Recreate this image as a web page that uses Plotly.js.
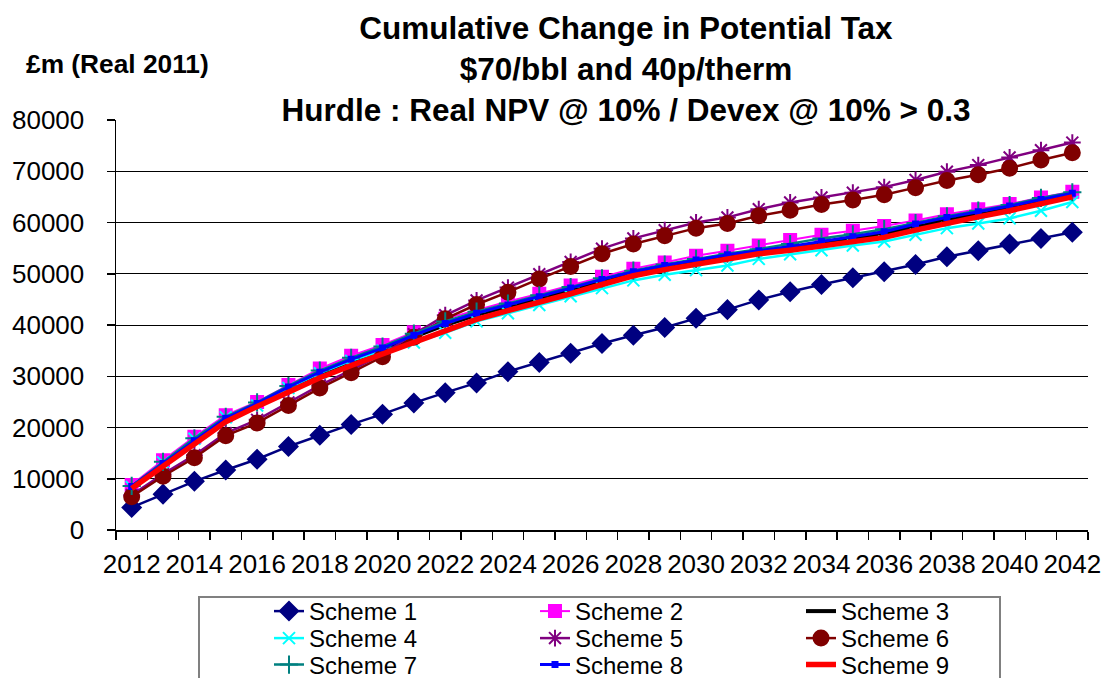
<!DOCTYPE html>
<html>
<head>
<meta charset="utf-8">
<script src="https://cdn.plot.ly/plotly-3.0.1.min.js"></script>
<style>html,body{margin:0;padding:0;background:#fff;}#chart{width:1104px;height:678px;}</style>
</head>
<body>
<div id="chart"></div>
<script>
var years = [2012,2013,2014,2015,2016,2017,2018,2019,2020,2021,2022,2023,2024,2025,2026,2027,2028,2029,2030,2031,2032,2033,2034,2035,2036,2037,2038,2039,2040,2041,2042];
var scheme1 = [4400,7000,9500,11700,13800,16300,18500,20600,22600,24800,26800,28700,30900,32700,34500,36400,38000,39500,41300,43000,44900,46500,47900,49200,50400,51800,53300,54500,55800,56900,58100];
var scheme2 = [8800,13600,18200,22400,25000,28300,31500,34000,36100,38600,41200,42900,44600,46100,47700,49400,51000,52200,53500,54500,55500,56600,57600,58400,59300,60400,61600,62600,63600,64900,66000];
var scheme3 = [8400,12800,17100,21500,24500,27600,30500,33000,35200,37700,40000,42000,43600,45200,46900,48600,50100,51300,52400,53400,54300,55000,55900,56800,57800,59300,60600,61700,62900,64200,65400];
var scheme4 = [8400,13200,17800,22000,24300,27700,30600,33000,35000,36600,38500,40700,42300,43900,45600,47200,48700,49800,50700,51600,52900,53800,54600,55500,56300,57600,58900,59800,60800,62300,64000];
var scheme5 = [6800,10900,14600,18900,21500,24900,28200,31200,34300,38200,41900,44800,47300,49900,52300,54900,56900,58500,60000,61000,62600,63900,64900,65800,66900,68300,69900,71200,72700,74100,75600];
var scheme6 = [6500,10500,14100,18400,20900,24300,27700,30700,33800,37600,41200,44000,46400,49000,51400,53900,55800,57400,58900,59800,61300,62400,63500,64400,65400,66800,68200,69300,70600,72200,73600];
var scheme7 = [8600,13300,17900,22100,24900,28100,31100,33600,35800,38300,40700,42600,44200,45800,47400,49100,50600,51800,52900,53900,54800,55800,56900,57700,58700,59900,61200,62300,63400,64800,65900];
var scheme8 = [8500,13000,17400,21800,24700,27900,30800,33300,35500,38000,40300,42300,43900,45500,47200,48900,50400,51600,52700,53700,54500,55300,56300,57200,58200,59700,61000,62100,63200,64500,65700];
var scheme9 = [8100,12400,16600,21100,24100,26900,29700,32100,34400,36600,38900,41100,42800,44400,46100,47900,49600,50800,51900,52900,53900,54600,55400,56200,57100,58500,59900,61100,62300,63600,65000];
var seriesNames = ["Scheme 1","Scheme 2","Scheme 3","Scheme 4","Scheme 5","Scheme 6","Scheme 7","Scheme 8","Scheme 9"];
var titleLines = ["Cumulative Change in Potential Tax","$70/bbl and 40p/therm","Hurdle : Real NPV @ 10% / Devex @ 10% > 0.3"];
var yUnitLabel = "£m (Real 2011)";

var seriesData = [scheme1,scheme2,scheme3,scheme4,scheme5,scheme6,scheme7,scheme8,scheme9];
var styles = [
  {color:'#000080', width:2.5, symbol:'diamond', size:14, legend:'legend'},
  {color:'#FF00FF', width:2, symbol:'square', size:12, legend:'legend'},
  {color:'#000000', width:4, symbol:null, size:0, legend:'legend'},
  {color:'#00FFFF', width:2.5, symbol:'x-thin-open', size:12, legend:'legend2'},
  {color:'#800080', width:2.5, symbol:'asterisk-open', size:14, legend:'legend2'},
  {color:'#800000', width:2.5, symbol:'circle', size:15, legend:'legend2'},
  {color:'#008080', width:2.5, symbol:'cross-thin-open', size:13, legend:'legend3'},
  {color:'#0000FF', width:3, symbol:'square', size:5, legend:'legend3'},
  {color:'#FF0000', width:5.5, symbol:null, size:0, legend:'legend3'}
];
var traces = seriesData.map(function(vals,i){
  var s = styles[i];
  var t = {x:years, y:vals, name:seriesNames[i], type:'scatter', legend:s.legend,
    mode: s.symbol ? 'lines+markers' : 'lines',
    line:{color:s.color, width:s.width}};
  if (s.symbol) {
    t.marker = {symbol:s.symbol, size:s.size, color:s.color, line:{color:s.color, width:2}};
  }
  return t;
});

var L = 116, R = 1088, T = 120, B = 530;
function px2x(p){ return (p-L)/(R-L); }
function px2y(p){ return (B-p)/(B-T); }
var legFont = {family:'Liberation Sans, Arial, sans-serif', size:24, color:'#000'};
function leg(yc){
  return {orientation:'h', x:px2x(269), xanchor:'left', y:px2y(yc), yanchor:'middle',
    entrywidth:221, entrywidthmode:'pixels', font:legFont, bgcolor:'rgba(0,0,0,0)',
    borderwidth:0, itemwidth:30, tracegroupgap:0};
}

var layout = {
  width:1104, height:678,
  margin:{l:L, r:1104-R, t:T, b:678-B, pad:0, autoexpand:false},
  paper_bgcolor:'#fff', plot_bgcolor:'#fff',
  font:{family:'Liberation Sans, Arial, sans-serif', color:'#000'},
  title:{text:titleLines.join('<br>'), x:626/1104, xanchor:'center', y:0.943, yanchor:'top',
    font:{family:'Liberation Sans, Arial, sans-serif', size:31.5, color:'#000', weight:'bold'}},
  xaxis:{type:'linear', range:[2011.5,2042.5], tick0:2012, dtick:2, ticks:'', showgrid:false,
    zeroline:false, showline:true, linecolor:'#000', linewidth:1.5,
    tickfont:{size:26, color:'#000'}, ticklabelstandoff:10,
    minor:{tick0:2011.5, dtick:1, ticks:'outside', ticklen:8, tickcolor:'#000', tickwidth:1.5, showgrid:false}},
  yaxis:{range:[0,80000], dtick:10000, tick0:0, ticks:'outside', ticklen:8, tickcolor:'#000', tickwidth:1.5,
    showgrid:true, gridcolor:'#000', gridwidth:1, zeroline:false, showline:true, linecolor:'#000', linewidth:1.5,
    tickfont:{size:26, color:'#000'}, ticklabelstandoff:17, tickformat:'d'},
  showlegend:true,
  legend:leg(611.5), legend2:leg(638.5), legend3:leg(665),
  annotations:[{text:'<b>'+yUnitLabel+'</b>', xref:'paper', yref:'paper', x:px2x(24), y:px2y(64),
    xanchor:'left', yanchor:'middle', showarrow:false, font:{size:26.3, color:'#000'}}],
  shapes:[{type:'rect', xref:'paper', yref:'paper', x0:px2x(199), x1:px2x(1000), y0:px2y(597), y1:px2y(720),
    line:{color:'#808080', width:2}, fillcolor:'rgba(0,0,0,0)', layer:'below'}]
};
Plotly.newPlot('chart', traces, layout, {displayModeBar:false, staticPlot:true});
</script>
</body>
</html>
